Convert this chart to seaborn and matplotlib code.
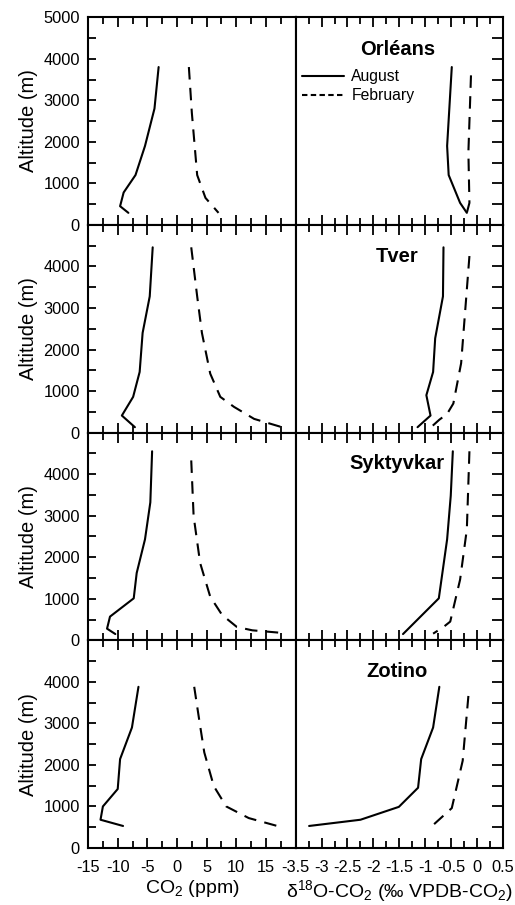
import pandas as pd
import numpy as np
import matplotlib
matplotlib.use('Agg')
import matplotlib.pyplot as plt
from matplotlib.ticker import MultipleLocator
import seaborn as sns

# station order (top to bottom)
stations = ['Orléans', 'Tver', 'Syktyvkar', 'Zotino']
months = ['August', 'February']

# CO2 anomaly (ppm) vs altitude (m)
orleans_co2_aug = [-3.1, -3.8, -5.4, -7.0, -9.0, -9.6, -8.2]
orleans_co2_aug_alt = [3800, 2800, 1900, 1200, 780, 450, 290]
orleans_co2_feb = [2.0, 2.5, 3.4, 4.8, 7.0]
orleans_co2_feb_alt = [3800, 2700, 1200, 650, 290]

tver_co2_aug = [-4.1, -4.6, -5.8, -6.3, -7.4, -9.3, -7.1]
tver_co2_aug_alt = [4460, 3280, 2400, 1460, 860, 410, 130]
tver_co2_feb = [2.4, 3.4, 4.2, 5.6, 7.3, 9.6, 13.0, 17.7]
tver_co2_feb_alt = [4460, 3280, 2400, 1420, 860, 620, 330, 130]

sykt_co2_aug = [-4.2, -4.5, -5.4, -6.8, -7.3, -11.3, -11.8, -10.4]
sykt_co2_aug_alt = [4550, 3320, 2430, 1620, 1010, 570, 280, 150]
sykt_co2_feb = [2.4, 2.8, 3.9, 5.6, 7.6, 10.1, 12.7, 17.5]
sykt_co2_feb_alt = [4330, 2990, 1860, 1050, 610, 320, 240, 180]

zot_co2_aug = [-6.5, -7.6, -9.6, -10.0, -12.5, -12.9, -9.1]
zot_co2_aug_alt = [3880, 2900, 2140, 1420, 1000, 680, 530]
zot_co2_feb = [2.9, 3.8, 4.6, 6.2, 8.3, 12.1, 16.9]
zot_co2_feb_alt = [3880, 3030, 2300, 1490, 1000, 720, 530]

# d18O-CO2 (permil VPDB-CO2) vs altitude (m)
orleans_d18_aug = [-0.49, -0.58, -0.55, -0.33, -0.20]
orleans_d18_aug_alt = [3800, 1900, 1200, 530, 290]
orleans_d18_feb = [-0.12, -0.17, -0.15, -0.20]
orleans_d18_feb_alt = [3600, 1750, 530, 290]

tver_d18_aug = [-0.65, -0.66, -0.81, -0.85, -0.98, -0.90, -1.15]
tver_d18_aug_alt = [4460, 3280, 2270, 1460, 900, 410, 130]
tver_d18_feb = [-0.15, -0.23, -0.31, -0.46, -0.58, -0.73, -0.89]
tver_d18_feb_alt = [4250, 2960, 1670, 700, 450, 310, 130]

sykt_d18_aug = [-0.47, -0.51, -0.58, -0.74, -1.43]
sykt_d18_aug_alt = [4550, 3480, 2430, 1010, 150]
sykt_d18_feb = [-0.15, -0.20, -0.33, -0.52, -0.65, -0.85]
sykt_d18_feb_alt = [4550, 2670, 1460, 450, 320, 160]

zot_d18_aug = [-0.73, -0.85, -1.08, -1.14, -1.51, -2.25, -3.24]
zot_d18_aug_alt = [3880, 2900, 2140, 1450, 990, 680, 530]
zot_d18_feb = [-0.17, -0.28, -0.49, -0.87]
zot_d18_feb_alt = [3660, 2100, 960, 530]

co2_ticks = [-15, -10, -5, 0, 5, 10, 15]
d18_ticks = [-3.5, -3, -2.5, -2, -1.5, -1, -0.5, 0, 0.5]
d18_labels = ['-3.5', '-3', '-2.5', '-2', '-1.5', '-1', '-0.5', '0', '0.5']
alt_ticks = [0, 1000, 2000, 3000, 4000, 5000]

series = {
    ('Orléans', 'co2', 'August'): (orleans_co2_aug, orleans_co2_aug_alt),
    ('Orléans', 'co2', 'February'): (orleans_co2_feb, orleans_co2_feb_alt),
    ('Orléans', 'd18', 'August'): (orleans_d18_aug, orleans_d18_aug_alt),
    ('Orléans', 'd18', 'February'): (orleans_d18_feb, orleans_d18_feb_alt),
    ('Tver', 'co2', 'August'): (tver_co2_aug, tver_co2_aug_alt),
    ('Tver', 'co2', 'February'): (tver_co2_feb, tver_co2_feb_alt),
    ('Tver', 'd18', 'August'): (tver_d18_aug, tver_d18_aug_alt),
    ('Tver', 'd18', 'February'): (tver_d18_feb, tver_d18_feb_alt),
    ('Syktyvkar', 'co2', 'August'): (sykt_co2_aug, sykt_co2_aug_alt),
    ('Syktyvkar', 'co2', 'February'): (sykt_co2_feb, sykt_co2_feb_alt),
    ('Syktyvkar', 'd18', 'August'): (sykt_d18_aug, sykt_d18_aug_alt),
    ('Syktyvkar', 'd18', 'February'): (sykt_d18_feb, sykt_d18_feb_alt),
    ('Zotino', 'co2', 'August'): (zot_co2_aug, zot_co2_aug_alt),
    ('Zotino', 'co2', 'February'): (zot_co2_feb, zot_co2_feb_alt),
    ('Zotino', 'd18', 'August'): (zot_d18_aug, zot_d18_aug_alt),
    ('Zotino', 'd18', 'February'): (zot_d18_feb, zot_d18_feb_alt),
}

rows = []
for (st, var, mon), (xs, alts) in series.items():
    for x, a in zip(xs, alts):
        rows.append({'station': st, 'var': var, 'month': mon, 'value': x, 'alt': a})
df = pd.DataFrame(rows)

sns.set_style('ticks')
plt.rcParams['font.family'] = ['Liberation Sans', 'DejaVu Sans']
plt.rcParams['mathtext.fontset'] = 'custom'
plt.rcParams['mathtext.rm'] = 'Liberation Sans'
plt.rcParams['mathtext.it'] = 'Liberation Sans:italic'
plt.rcParams['mathtext.bf'] = 'Liberation Sans:bold'
plt.rcParams['axes.unicode_minus'] = False
plt.rcParams['text.color'] = 'black'
plt.rcParams['axes.labelcolor'] = 'black'
plt.rcParams['xtick.color'] = 'black'
plt.rcParams['ytick.color'] = 'black'

fig, axes = plt.subplots(4, 2, figsize=(5.15, 9.05), dpi=100)
fig.subplots_adjust(left=0.171, right=0.977, top=0.981, bottom=0.063,
                    hspace=0, wspace=0)

dash_map = {'August': '', 'February': (6, 4)}

for i, st in enumerate(stations):
    for j, var in enumerate(['co2', 'd18']):
        ax = axes[i, j]
        sub = df[(df['station'] == st) & (df['var'] == var)]
        sns.lineplot(data=sub, x='value', y='alt', style='month',
                     style_order=months, dashes=dash_map, color='black',
                     lw=1.5, sort=False, estimator=None,
                     legend=(i == 0 and j == 1), ax=ax)
        ax.set_ylim(0, 5000)
        for s in ax.spines.values():
            s.set_linewidth(1.5)
            s.set_color('black')
        ax.tick_params(axis='both', which='both', direction='in',
                       width=1.3, colors='black', labelsize=11.8)
        ax.tick_params(axis='x', which='major', length=7, top=True,
                       bottom=True, pad=9)
        ax.tick_params(axis='x', which='minor', length=5, top=True,
                       bottom=True)
        ax.set_ylabel('')
        ax.set_xlabel('')
        if j == 0:
            ax.set_xlim(-15, 20)
            ax.set_xticks(co2_ticks)
            ax.xaxis.set_minor_locator(MultipleLocator(2.5))
            ax.set_yticks(alt_ticks)
            if i == 0:
                ax.set_yticklabels([str(t) for t in alt_ticks])
            else:
                ax.set_yticklabels([str(t) for t in alt_ticks[:-1]] + [''])
            ax.yaxis.set_minor_locator(MultipleLocator(500))
            ax.tick_params(axis='y', which='both', length=6, left=True,
                           right=False, pad=6)
            ax.set_ylabel('Altitude (m)', fontsize=14.5, labelpad=4)
        else:
            ax.set_xlim(-3.5, 0.5)
            ax.set_xticks(d18_ticks)
            ax.set_xticklabels(d18_labels)
            ax.xaxis.set_minor_locator(MultipleLocator(0.25))
            ax.set_yticks(alt_ticks)
            ax.yaxis.set_minor_locator(MultipleLocator(500))
            ax.tick_params(axis='y', which='both', length=8, left=False,
                           right=True, labelleft=False)
            ax.text(0.49, 0.85 if i > 0 else 0.845, st, transform=ax.transAxes,
                    ha='center', va='center', fontsize=14.5,
                    fontweight='bold')
        if i < 3:
            ax.tick_params(axis='x', which='both', labelbottom=False)

axes[3, 0].set_xlabel('CO$_2$ (ppm)', fontsize=14, labelpad=2)
axes[3, 1].set_xlabel('δ$^{18}$O-CO$_2$ (‰ VPDB-CO$_2$)', fontsize=14,
                      labelpad=2)

leg_ax = axes[0, 1]
handles, labels = leg_ax.get_legend_handles_labels()
leg = leg_ax.legend(handles, labels, loc='upper left',
                    bbox_to_anchor=(0.03, 0.75), frameon=False,
                    fontsize=11.3, handlelength=2.7, handletextpad=0.45,
                    labelspacing=0.25, borderpad=0, borderaxespad=0)
# shorter dashes in the legend key, as in the original
leg.get_lines()[1].set_dashes((2.6, 1.6))

plt.savefig('out.png', dpi=100)
plt.close()
